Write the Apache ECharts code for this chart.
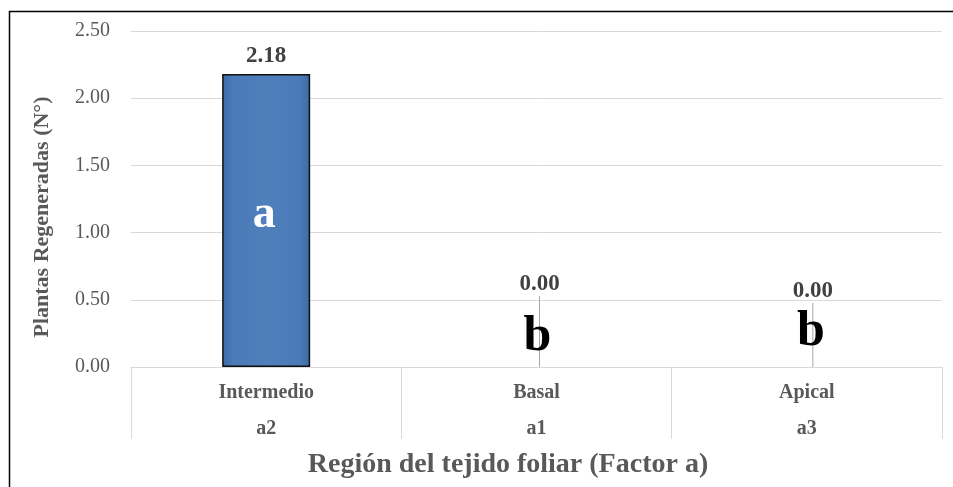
<!DOCTYPE html>
<html>
<head>
<meta charset="utf-8">
<script src="https://cdn.jsdelivr.net/npm/echarts@6/dist/echarts.min.js"></script>
<style>
  html, body { margin: 0; padding: 0; background: #fff; }
  #chart { width: 953px; height: 487px; }
</style>
</head>
<body>
<div id="chart"></div>
<script>
// data
const regions = ['Intermedio', 'Basal', 'Apical'];
const codes = ['a2', 'a1', 'a3'];
const plantas = [2.18, 0.00, 0.00];
const letters = ['a', 'b', 'b'];
const letterY = [1.13, 0.22, 0.26];
const yTicks = [0, 0.5, 1, 1.5, 2, 2.5];

const serif = '"Liberation Serif", "Times New Roman", serif';
const grey = '#595959';

window.onload = () => {
    const chart = echarts.init(document.getElementById('chart'));

    // moved data labels (Excel-style, with leader lines)
    const labelDy = [0, -65, -58];
    const labelDx = [0, 3, 6];

    chart.setOption({
        animation: false,
        backgroundColor: '#fff',
        grid: { left: 131, right: 11, top: 31, bottom: 120 },
        xAxis: {
            type: 'category',
            data: regions.map((r, i) => r + '\n' + codes[i]),
            axisLine: { lineStyle: { color: '#d9d9d9', width: 1 } },
            axisTick: { show: true, length: 72, interval: 0, lineStyle: { color: '#d9d9d9' } },
            axisLabel: {
                interval: 0,
                margin: 8,
                color: grey,
                fontFamily: serif,
                fontWeight: 'bold',
                fontSize: 20,
                lineHeight: 36
            }
        },
        yAxis: {
            type: 'value',
            min: yTicks[0],
            max: yTicks[yTicks.length - 1],
            interval: 0.5,
            axisLine: { show: false },
            axisTick: { show: false },
            splitLine: { lineStyle: { color: '#d9d9d9', width: 1 } },
            axisLabel: {
                margin: 21,
                color: grey,
                fontFamily: serif,
                fontSize: 20,
                formatter: v => v.toFixed(2)
            }
        },
        series: [
            {
                type: 'bar',
                barWidth: 88,
                data: plantas.map((v, i) => ({
                    value: v,
                    itemStyle: { borderWidth: v > 0 ? 1.5 : 0 },
                    labelLine: { show: i > 0 }
                })),
                itemStyle: {
                    color: new echarts.graphic.LinearGradient(0, 0, 1, 0, [
                        { offset: 0, color: '#3c6aa3' },
                        { offset: 0.12, color: '#4a7bb8' },
                        { offset: 0.5, color: '#4f80bc' },
                        { offset: 0.88, color: '#4a7bb8' },
                        { offset: 1, color: '#3c6aa3' }
                    ]),
                    borderColor: '#111'
                },
                label: {
                    show: true,
                    position: 'top',
                    distance: 6,
                    color: '#404040',
                    fontFamily: serif,
                    fontWeight: 'bold',
                    fontSize: 23,
                    formatter: p => p.value.toFixed(2)
                },
                labelLine: { lineStyle: { color: '#a6a6a6', width: 1 } },
                labelLayout: p => ({ dx: labelDx[p.dataIndex], dy: labelDy[p.dataIndex] })
            }
        ]
    });

    // significance letters placed through the axes' scales
    const letterGraphics = letters.map((t, i) => {
        const pt = chart.convertToPixel({ gridIndex: 0 }, [i, letterY[i]]);
        return {
            type: 'text',
            x: pt[0] + labelDx[i] - 2,
            y: pt[1],
            silent: true,
            z: 100,
            style: {
                text: t,
                fill: i === 0 ? '#ffffff' : '#000000',
                font: 'bold ' + (i === 0 ? 46 : 50) + 'px ' + serif,
                textAlign: 'center',
                textVerticalAlign: 'middle'
            }
        };
    });

    chart.setOption({
        graphic: [
            {
                type: 'rect',
                shape: { x: 9.5, y: 11.5, width: 980, height: 500 },
                style: { fill: 'none', stroke: '#000', lineWidth: 1.5 },
                silent: true
            },
            {
                type: 'text',
                x: 42, y: 217,
                rotation: Math.PI / 2,
                style: {
                    text: 'Plantas Regeneradas (N°)',
                    fill: grey,
                    font: 'bold 22px ' + serif,
                    textAlign: 'center',
                    textVerticalAlign: 'middle'
                }
            },
            {
                type: 'text',
                x: 508, y: 465,
                style: {
                    text: 'Región del tejido foliar (Factor a)',
                    fill: grey,
                    font: 'bold 28px ' + serif,
                    textAlign: 'center',
                    textVerticalAlign: 'middle'
                }
            }
        ].concat(letterGraphics)
    });
};
</script>
</body>
</html>
